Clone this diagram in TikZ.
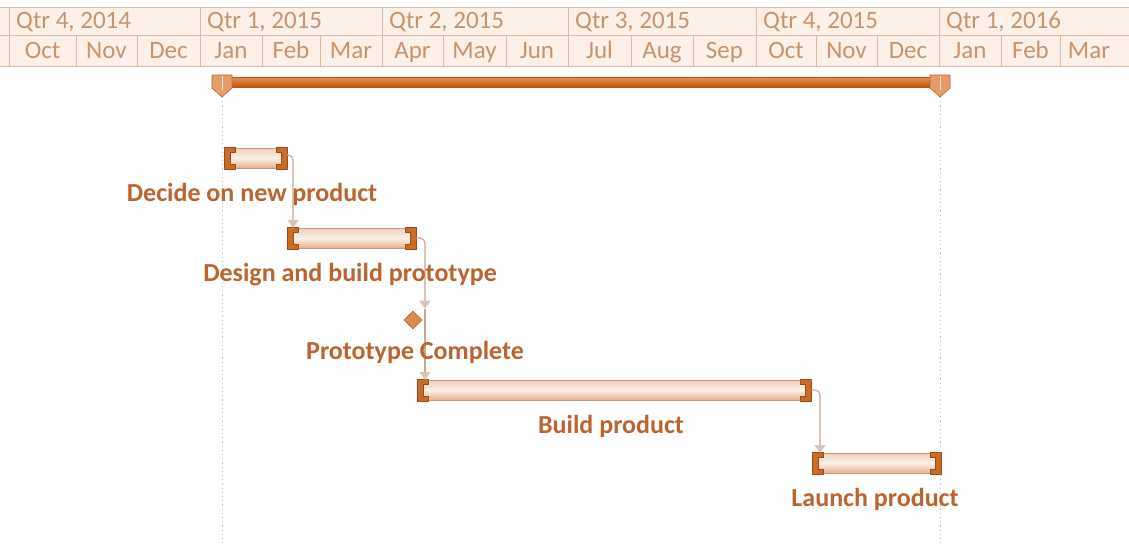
\documentclass[tikz,border=0pt]{standalone}
\usepackage{fontspec}
\setmainfont{Carlito}
\usetikzlibrary{shapes.geometric,arrows.meta,calc}
\definecolor{hdrfill}{HTML}{FDF0E8}
\definecolor{hdrline}{HTML}{D9BBA8}
\definecolor{hdrtext}{HTML}{C8946F}
\definecolor{lbltext}{HTML}{BC6430}
\definecolor{barline}{HTML}{C99878}
\definecolor{bartop}{HTML}{F0D0BC}
\definecolor{barmid}{HTML}{FCF0E8}
\definecolor{barbot}{HTML}{E6AF8E}
\definecolor{brkfill}{HTML}{CC6A28}
\definecolor{brkline}{HTML}{9E4A14}
\definecolor{sumtop}{HTML}{E8925C}
\definecolor{sumbot}{HTML}{BE560F}
\definecolor{mkfill}{HTML}{E69B6A}
\definecolor{mkline}{HTML}{C0602A}
\definecolor{connline}{HTML}{C9A690}
\definecolor{arrfill}{HTML}{D8C4B8}
\definecolor{msfill}{HTML}{D98A52}
\definecolor{msline}{HTML}{BE6A30}
\definecolor{dotcol}{HTML}{C8C0BC}
\begin{document}
\begin{tikzpicture}[x=1pt,y=-1pt,
  hline/.style={draw=hdrline,line width=0.8pt},
  qtext/.style={text=hdrtext,font=\fontsize{25}{28}\selectfont,inner sep=0pt},
  mtext/.style={text=hdrtext,font=\fontsize{25}{28}\selectfont,inner sep=0pt},
  lbl/.style={text=lbltext,font=\fontsize{26}{30}\selectfont\bfseries,inner sep=0pt},
  taskbar/.style={draw=barline,line width=0.6pt,top color=bartop,bottom color=barbot,middle color=barmid,
    inner sep=0pt,outer sep=0pt,minimum height=20pt,anchor=north west},
  brk/.style={fill=brkfill,draw=brkline,line width=0.8pt,line join=round},
  sumbar/.style={top color=sumtop,bottom color=sumbot,draw=sumbot,line width=0.5pt,inner sep=0pt,outer sep=0pt,minimum height=10pt,anchor=west},
  mk/.style={fill=mkfill,draw=mkline,line width=0.6pt},
  conn/.style={draw=connline,line width=1.1pt,rounded corners=5pt,-{Triangle[width=11pt,length=8pt,fill=arrfill,color=arrfill]}},
  dotl/.style={draw=dotcol,line width=1pt,dash pattern=on 1.2pt off 3pt},
  milestone/.style={diamond,fill=msfill,draw=msline,line width=0.6pt,minimum width=18pt,minimum height=18pt,inner sep=0pt}
]
\useasboundingbox (0,0) rectangle (1129,544);
\fill[white] (0,0) rectangle (1129,544);
% timescale header
\fill[hdrfill] (0,7) rectangle (1129,66);
\draw[hline] (0,7) -- (1129,7);
\draw[hline] (0,35) -- (1129,35);
\draw[hline] (0,66) -- (1129,66);
\foreach \x/\t [count=\i] in {9/{Qtr 4, 2014},200/{Qtr 1, 2015},382/{Qtr 2, 2015},568/{Qtr 3, 2015},756/{Qtr 4, 2015},939/{Qtr 1, 2016}}{
  \draw[hline] (\x,7) -- (\x,35);
  \node[qtext,anchor=base west] (q\i) at (\x+7,28) {\t};
}
\foreach \a/\b/\m [count=\i] in {9/76/Oct,76/137/Nov,137/200/Dec,200/262/Jan,262/320/Feb,320/382/Mar,382/443/Apr,443/506/May,506/568/Jun,568/631/Jul,631/693/Aug,693/756/Sep,756/816/Oct,816/877/Nov,877/939/Dec,939/1001/Jan,1001/1060/Feb,1060/1118/Mar}{
  \draw[hline] (\a,35) -- (\a,66);
  \node[mtext,anchor=base] (m\i) at ({(\a+\b)/2},58) {\m};
}
% summary bar
\node[sumbar,minimum width=718pt] (sum) at (222,82) {};
\coordinate (dl1) at (222,544);
\coordinate (dl2) at (940,544);
\draw[dotl] ($(sum.west)+(0,15)$) -- (dl1);
\draw[dotl] ($(sum.east)+(0,15)$) -- (dl2);
\foreach \a in {west,east}{
  \draw[mk] ($(sum.\a)+(-10,-7)$) -- ($(sum.\a)+(10,-7)$) -- ($(sum.\a)+(10,6)$) -- ($(sum.\a)+(0,15)$) -- ($(sum.\a)+(-10,6)$) -- cycle;
  \draw[white!70!mkfill,line width=0.8pt] ($(sum.\a)+(0,-6)$) -- ($(sum.\a)+(0,8)$);
}
% task bars
\node[taskbar,minimum width=63pt] (t1) at (224,148) {};
\node[taskbar,minimum width=129pt] (t2) at (287,228) {};
\node[taskbar,minimum width=394pt] (build) at (417,380) {};
\node[taskbar,minimum width=129pt] (launch) at (812,453) {};
\node[milestone] (ms) at (413,320) {};
\foreach \n in {t1,t2,build,launch}{
  \draw[brk] ([yshift=1pt]\n.north west) -- ++(11,0) -- ++(0,5) -- ++(-5,0) -- ++(0,12) -- ++(5,0) -- ++(0,5) -- ++(-11,0) -- cycle;
  \draw[brk] ([yshift=1pt]\n.north east) -- ++(-11,0) -- ++(0,5) -- ++(5,0) -- ++(0,12) -- ++(-5,0) -- ++(0,5) -- ++(11,0) -- cycle;
}
% connectors
\draw[conn] ([yshift=3pt]t1.east) -| ([xshift=6pt]t2.north west);
\draw[conn] (t2.east) -| ([xshift=12pt,yshift=2pt]ms.north);
\draw[conn] ([xshift=12pt,yshift=2pt]ms.north) -- ([xshift=8pt]build.north west);
\draw[conn] (build.east) -| ([xshift=8pt]launch.north west);
% labels
\node[lbl,anchor=base] (l1) at (252,201) {Decide on new product};
\node[lbl,anchor=base] (l2) at (350,281) {Design and build prototype};
\node[lbl,anchor=base] (l3) at (415,359) {Prototype Complete};
\node[lbl,anchor=base] (l4) at (611,433) {Build product};
\node[lbl,anchor=base] (l5) at (875,506) {Launch product};
\end{tikzpicture}
\end{document}
